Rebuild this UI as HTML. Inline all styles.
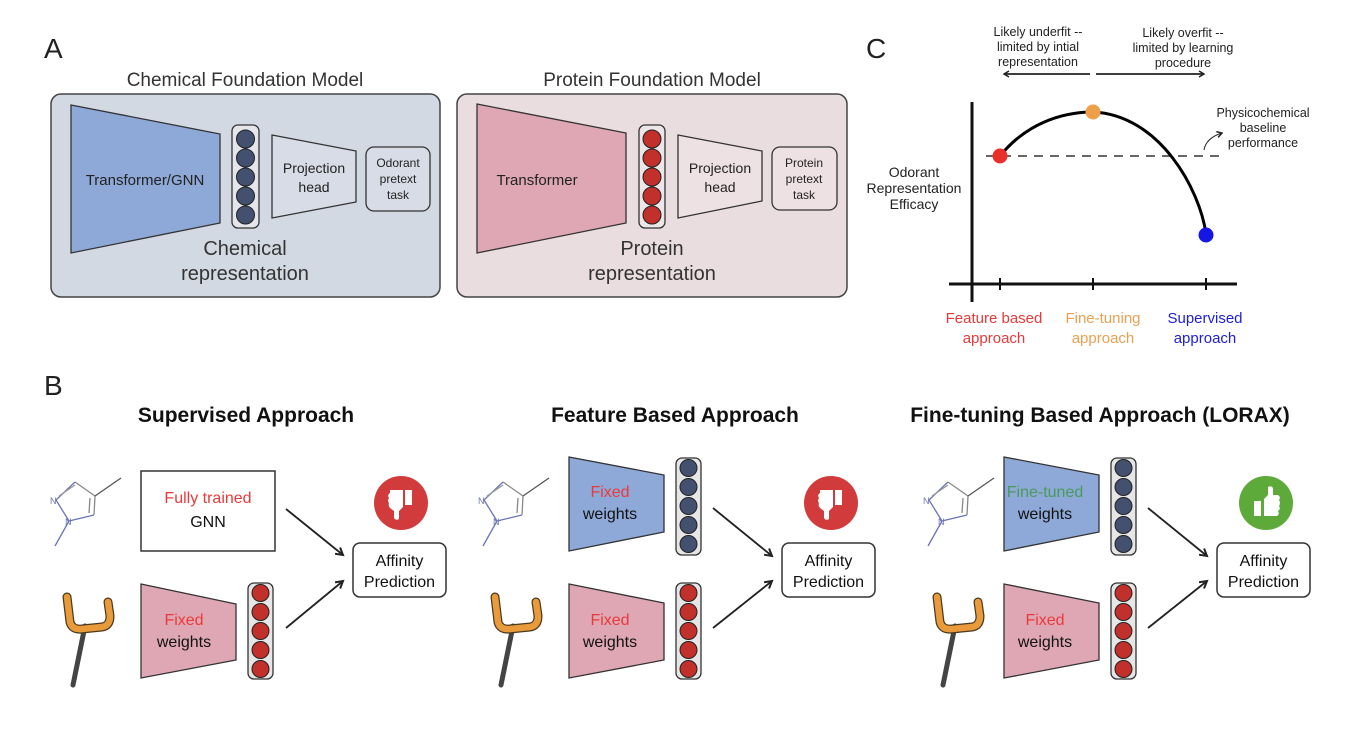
<!DOCTYPE html>
<html><head><meta charset="utf-8"><style>
html,body{margin:0;padding:0;background:#fff}
svg{display:block}
text{font-family:"Liberation Sans","DejaVu Sans",sans-serif}
</style></head><body>
<svg width="1352" height="740" viewBox="0 0 1352 740" xmlns="http://www.w3.org/2000/svg">
<defs>
<marker id="ah" markerWidth="10" markerHeight="10" refX="8" refY="5" orient="auto" markerUnits="userSpaceOnUse">
<path d="M1,1 L8,5 L1,9" fill="none" stroke="#222" stroke-width="2"/>
</marker>
<marker id="ah2" markerWidth="8" markerHeight="8" refX="6" refY="4" orient="auto" markerUnits="userSpaceOnUse">
<path d="M1,1 L6,4 L1,7" fill="none" stroke="#222" stroke-width="1.5"/>
</marker>
</defs>

<!-- Panel letters -->
<text x="44" y="58" font-size="28" fill="#222">A</text>
<text x="44" y="395" font-size="28" fill="#222">B</text>
<text x="866" y="58" font-size="28" fill="#222">C</text>

<!-- Panel A chemical -->
<text x="245" y="86" font-size="19" fill="#333" text-anchor="middle">Chemical Foundation Model</text>
<rect x="51" y="94" width="389" height="203" rx="10" fill="#d3d9e3" stroke="#444" stroke-width="1.5"/>
<polygon points="71,105 220,134 220,223 71,253" fill="#8ea9d8" stroke="#333" stroke-width="1.3"/>
<text x="145" y="185" font-size="15" fill="#222" text-anchor="middle">Transformer/GNN</text>
<rect x="232" y="125" width="27" height="103" rx="6" fill="#e4e6ec" stroke="#333" stroke-width="1.3"/>
<g fill="#435070" stroke="#222" stroke-width="1">
<circle cx="245.5" cy="139" r="9"/><circle cx="245.5" cy="158" r="9"/><circle cx="245.5" cy="177" r="9"/><circle cx="245.5" cy="196" r="9"/><circle cx="245.5" cy="215" r="9"/></g>
<polygon points="272,135 356,151 356,202 272,218" fill="#d8dce6" stroke="#333" stroke-width="1.3"/>
<text x="314" y="173" font-size="14" fill="#222" text-anchor="middle">Projection</text>
<text x="314" y="192" font-size="14" fill="#222" text-anchor="middle">head</text>
<rect x="366" y="147" width="64" height="64" rx="8" fill="#d8dce6" stroke="#333" stroke-width="1.3"/>
<text x="398" y="167" font-size="12" fill="#222" text-anchor="middle">Odorant</text>
<text x="398" y="183" font-size="12" fill="#222" text-anchor="middle">pretext</text>
<text x="398" y="199" font-size="12" fill="#222" text-anchor="middle">task</text>
<text x="245" y="255" font-size="20" fill="#333" text-anchor="middle">Chemical</text>
<text x="245" y="280" font-size="20" fill="#333" text-anchor="middle">representation</text>

<!-- Panel A protein -->
<text x="652" y="86" font-size="19" fill="#333" text-anchor="middle">Protein Foundation Model</text>
<rect x="457" y="94" width="390" height="203" rx="10" fill="#e9dde0" stroke="#444" stroke-width="1.5"/>
<polygon points="477,104 626,133 626,223 477,253" fill="#dfa7b4" stroke="#333" stroke-width="1.3"/>
<text x="537" y="185" font-size="15" fill="#222" text-anchor="middle">Transformer</text>
<rect x="639" y="125" width="26" height="103" rx="6" fill="#ece6e8" stroke="#333" stroke-width="1.3"/>
<g fill="#c2302b" stroke="#222" stroke-width="1">
<circle cx="652" cy="139" r="9"/><circle cx="652" cy="158" r="9"/><circle cx="652" cy="177" r="9"/><circle cx="652" cy="196" r="9"/><circle cx="652" cy="215" r="9"/></g>
<polygon points="678,135 762,151 762,201 678,218" fill="#ede1e4" stroke="#333" stroke-width="1.3"/>
<text x="720" y="173" font-size="14" fill="#222" text-anchor="middle">Projection</text>
<text x="720" y="192" font-size="14" fill="#222" text-anchor="middle">head</text>
<rect x="772" y="147" width="65" height="63" rx="8" fill="#ede1e4" stroke="#333" stroke-width="1.3"/>
<text x="804" y="167" font-size="12" fill="#222" text-anchor="middle">Protein</text>
<text x="804" y="183" font-size="12" fill="#222" text-anchor="middle">pretext</text>
<text x="804" y="199" font-size="12" fill="#222" text-anchor="middle">task</text>
<text x="652" y="255" font-size="20" fill="#333" text-anchor="middle">Protein</text>
<text x="652" y="280" font-size="20" fill="#333" text-anchor="middle">representation</text>

<!-- Panel C -->
<g font-size="12.5" fill="#222" text-anchor="middle">
<text x="1038" y="36">Likely underfit --</text>
<text x="1038" y="51">limited by intial</text>
<text x="1038" y="66">representation</text>
<text x="1183" y="37">Likely overfit --</text>
<text x="1183" y="52">limited by learning</text>
<text x="1183" y="67">procedure</text>
<text x="1263" y="117">Physicochemical</text>
<text x="1263" y="132">baseline</text>
<text x="1263" y="147">performance</text>
</g>
<line x1="1090" y1="74" x2="1004" y2="74" stroke="#222" stroke-width="1.8" marker-end="url(#ah2)"/>
<line x1="1096" y1="74" x2="1204" y2="74" stroke="#222" stroke-width="1.8" marker-end="url(#ah2)"/>
<path d="M1204,150 Q1206,138 1222,133" fill="none" stroke="#222" stroke-width="1" marker-end="url(#ah2)"/>
<g font-size="14" fill="#222" text-anchor="middle">
<text x="914" y="177">Odorant</text>
<text x="914" y="193">Representation</text>
<text x="914" y="209">Efficacy</text>
</g>
<line x1="972" y1="102" x2="972" y2="302" stroke="#111" stroke-width="3"/>
<line x1="949" y1="284" x2="1237" y2="284" stroke="#111" stroke-width="3"/>
<g stroke="#111" stroke-width="2"><line x1="1000" y1="278" x2="1000" y2="290"/><line x1="1093" y1="278" x2="1093" y2="290"/><line x1="1206" y1="278" x2="1206" y2="290"/></g>
<line x1="986" y1="156" x2="1226" y2="156" stroke="#333" stroke-width="1.5" stroke-dasharray="9,7"/>
<path d="M1000,156 C1025,125 1060,112 1093,112 C1160,115 1200,190 1206,234" fill="none" stroke="#000" stroke-width="3"/>
<circle cx="1000" cy="156" r="7.5" fill="#e8302a"/>
<circle cx="1093" cy="112" r="7.5" fill="#eda048"/>
<circle cx="1206" cy="235" r="7.5" fill="#1515e6"/>
<g font-size="15" text-anchor="middle">
<text x="994" y="323" fill="#e83a3a">Feature based</text>
<text x="994" y="343" fill="#e83a3a">approach</text>
<text x="1103" y="323" fill="#eda050">Fine-tuning</text>
<text x="1103" y="343" fill="#eda050">approach</text>
<text x="1205" y="323" fill="#2020d8">Supervised</text>
<text x="1205" y="343" fill="#2020d8">approach</text>
</g>

<!-- Panel B titles -->
<g font-size="21" font-weight="bold" fill="#111" text-anchor="middle">
<text x="246" y="422">Supervised Approach</text>
<text x="675" y="422">Feature Based Approach</text>
<text x="1100" y="422">Fine-tuning Based Approach (LORAX)</text>
</g>

<!-- reusable molecule & tool -->
<defs>
<g id="mol" fill="none" stroke="#6a74b8" stroke-width="1.3">
<line x1="69" y1="521" x2="56" y2="500"/>
<line x1="56" y1="500" x2="75" y2="482"/>
<line x1="59" y1="496" x2="75" y2="485" stroke="#999"/>
<line x1="75" y1="482" x2="95" y2="496" stroke="#888"/>
<line x1="95" y1="496" x2="94" y2="515" stroke="#888"/>
<line x1="90" y1="498" x2="89" y2="513" stroke="#888"/>
<line x1="94" y1="515" x2="69" y2="521"/>
<line x1="95" y1="496" x2="121" y2="478" stroke="#555"/>
<line x1="69" y1="521" x2="55" y2="546"/>
<text x="50" y="504" font-size="9" fill="#6a74b8" stroke="none">N</text>
<text x="65" y="525" font-size="9" fill="#6a74b8" stroke="none">N</text>
</g>
<g id="tool">
<line x1="85" y1="626" x2="73" y2="685" stroke="#444" stroke-width="5" stroke-linecap="round"/>
<path d="M67,597 L70,622 Q72,630 82,629 L102,627 Q110,626 110,616 L108,602" fill="none" stroke="#4a3a20" stroke-width="9" stroke-linecap="round" stroke-linejoin="round"/>
<path d="M67,597 L70,622 Q72,630 82,629 L102,627 Q110,626 110,616 L108,602" fill="none" stroke="#e99a3a" stroke-width="6.5" stroke-linecap="round" stroke-linejoin="round"/>
</g>
<g id="redvec">
<rect x="0" y="0" width="25" height="96" rx="6" fill="#e6e6e6" stroke="#333" stroke-width="1.3"/>
<g fill="#c2302b" stroke="#222" stroke-width="1"><circle cx="12.5" cy="10" r="8.5"/><circle cx="12.5" cy="29" r="8.5"/><circle cx="12.5" cy="48" r="8.5"/><circle cx="12.5" cy="67" r="8.5"/><circle cx="12.5" cy="86" r="8.5"/></g>
</g>
<g id="bluevec">
<rect x="0" y="0" width="25" height="97" rx="6" fill="#e6e6e6" stroke="#333" stroke-width="1.3"/>
<g fill="#435070" stroke="#222" stroke-width="1"><circle cx="12.5" cy="10" r="8.5"/><circle cx="12.5" cy="29" r="8.5"/><circle cx="12.5" cy="48" r="8.5"/><circle cx="12.5" cy="67" r="8.5"/><circle cx="12.5" cy="86" r="8.5"/></g>
</g>
<g id="thumbdown">
<circle cx="0" cy="0" r="27" fill="#d23b3b"/>
<rect x="4" y="-13" width="7" height="15" fill="#fff"/>
<path d="M-11,-13 L2,-13 L2,4 L-2,8 L-2,16 Q-5,18 -7,15 L-7,8 L-11,5 Q-13,3 -12,0 Q-14,-2 -12,-5 Q-14,-8 -11,-10 Z" fill="#fff"/>
</g>
<g id="thumbup">
<circle cx="0" cy="0" r="27" fill="#5daa3a"/>
<rect x="-12" y="-2" width="7" height="15" fill="#fff"/>
<path d="M11,13 L-2,13 L-2,-4 L2,-8 L2,-16 Q5,-18 7,-15 L7,-8 L12,-8 Q15,-6 13,-3 Q15,0 13,3 Q15,6 12,8 Q14,11 11,13 Z" fill="#fff"/>
</g>
<g id="aff">
<rect x="0" y="0" width="93" height="54" rx="7" fill="#fff" stroke="#333" stroke-width="1.5"/>
<text x="46.5" y="23" font-size="16" fill="#111" text-anchor="middle">Affinity</text>
<text x="46.5" y="44" font-size="16" fill="#111" text-anchor="middle">Prediction</text>
</g>
</defs>

<!-- Section 1 -->
<use href="#mol"/>
<use href="#tool"/>
<rect x="141" y="471" width="134" height="80" fill="#fff" stroke="#333" stroke-width="1.5"/>
<text x="208" y="503" font-size="16" fill="#e83a3a" text-anchor="middle">Fully trained</text>
<text x="208" y="527" font-size="16" fill="#111" text-anchor="middle">GNN</text>
<polygon points="141,584 236,604 236,660 141,678" fill="#dfa7b4" stroke="#333" stroke-width="1.3"/>
<text x="184" y="625" font-size="16" fill="#e83a3a" text-anchor="middle">Fixed</text>
<text x="184" y="647" font-size="16" fill="#111" text-anchor="middle">weights</text>
<use href="#redvec" x="248" y="583"/>
<line x1="286" y1="509" x2="343" y2="555" stroke="#222" stroke-width="1.8" marker-end="url(#ah)"/>
<line x1="286" y1="628" x2="343" y2="581" stroke="#222" stroke-width="1.8" marker-end="url(#ah)"/>
<use href="#aff" x="353" y="543"/>
<use href="#thumbdown" x="401" y="503"/>

<!-- Section 2 -->
<use href="#mol" x="428"/>
<use href="#tool" x="428"/>
<polygon points="569,457 664,475 664,532 569,551" fill="#8ea9d8" stroke="#333" stroke-width="1.3"/>
<text x="610" y="497" font-size="16" fill="#e83a3a" text-anchor="middle">Fixed</text>
<text x="610" y="519" font-size="16" fill="#111" text-anchor="middle">weights</text>
<use href="#bluevec" x="676" y="458"/>
<polygon points="569,584 664,603 664,660 569,678" fill="#dfa7b4" stroke="#333" stroke-width="1.3"/>
<text x="610" y="625" font-size="16" fill="#e83a3a" text-anchor="middle">Fixed</text>
<text x="610" y="647" font-size="16" fill="#111" text-anchor="middle">weights</text>
<use href="#redvec" x="676" y="583"/>
<line x1="713" y1="508" x2="772" y2="556" stroke="#222" stroke-width="1.8" marker-end="url(#ah)"/>
<line x1="713" y1="628" x2="772" y2="581" stroke="#222" stroke-width="1.8" marker-end="url(#ah)"/>
<use href="#aff" x="782" y="543"/>
<use href="#thumbdown" x="831" y="503"/>

<!-- Section 3 -->
<use href="#mol" x="873"/>
<use href="#tool" x="870"/>
<polygon points="1004,457 1099,475 1099,532 1004,551" fill="#8ea9d8" stroke="#333" stroke-width="1.3"/>
<text x="1045" y="497" font-size="16" fill="#4a9a5a" text-anchor="middle">Fine-tuned</text>
<text x="1045" y="519" font-size="16" fill="#111" text-anchor="middle">weights</text>
<use href="#bluevec" x="1111" y="458"/>
<polygon points="1004,584 1099,603 1099,660 1004,678" fill="#dfa7b4" stroke="#333" stroke-width="1.3"/>
<text x="1045" y="625" font-size="16" fill="#e83a3a" text-anchor="middle">Fixed</text>
<text x="1045" y="647" font-size="16" fill="#111" text-anchor="middle">weights</text>
<use href="#redvec" x="1111" y="583"/>
<line x1="1148" y1="508" x2="1207" y2="556" stroke="#222" stroke-width="1.8" marker-end="url(#ah)"/>
<line x1="1148" y1="628" x2="1207" y2="581" stroke="#222" stroke-width="1.8" marker-end="url(#ah)"/>
<use href="#aff" x="1217" y="543"/>
<use href="#thumbup" x="1266" y="503"/>
</svg>
</body></html>
